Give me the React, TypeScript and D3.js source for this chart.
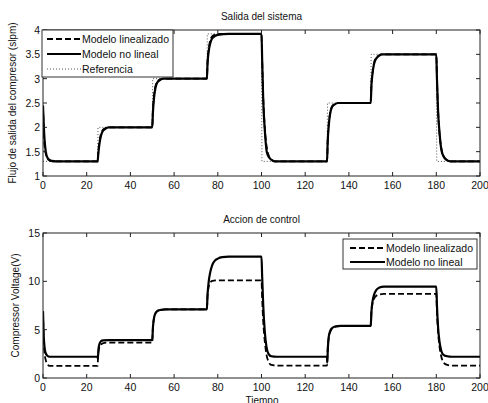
import * as d3 from 'd3'

// [tiempo, valor] pairs
const topLinealizado: [number, number][] = [
  [0, 2.45], [0.4, 1.85], [0.9, 1.55], [1.5, 1.42], [2.2, 1.35], [3, 1.32], [4.5, 1.3], [25, 1.3],
  [25.3, 1.5], [25.8, 1.7], [26.5, 1.86], [27.3, 1.94], [28.5, 1.98], [30, 2.0], [50, 2.0],
  [50.3, 2.35], [50.8, 2.65], [51.5, 2.85], [52.3, 2.94], [53.5, 2.98], [55, 3.0], [75, 3.0],
  [75.3, 3.35], [75.8, 3.6], [76.5, 3.78], [77.3, 3.86], [78.5, 3.9], [80, 3.92], [100, 3.92],
  [100.3, 3.4], [100.8, 2.6], [101.5, 2.0], [102.3, 1.62], [103.3, 1.42], [104.5, 1.34], [106, 1.3], [130, 1.3],
  [130.3, 1.72], [130.8, 2.08], [131.5, 2.32], [132.3, 2.43], [133.5, 2.48], [135, 2.5], [150, 2.5],
  [150.3, 2.87], [150.8, 3.12], [151.5, 3.32], [152.3, 3.42], [153.5, 3.47], [155, 3.5], [180, 3.5],
  [180.3, 3.0], [180.8, 2.35], [181.5, 1.85], [182.3, 1.57], [183.3, 1.41], [184.5, 1.34], [186.5, 1.3], [200, 1.3],
]
const topNoLineal: [number, number][] = [
  [0, 2.45], [0.5, 1.9], [1, 1.6], [1.5, 1.45], [2, 1.38], [3, 1.33], [4, 1.31], [6, 1.3], [25, 1.3],
  [25.3, 1.45], [25.8, 1.65], [26.5, 1.82], [27.3, 1.92], [28.5, 1.97], [30, 2.0], [50, 2.0],
  [50.3, 2.3], [50.8, 2.6], [51.5, 2.82], [52.3, 2.92], [53.5, 2.97], [55, 3.0], [75, 3.0],
  [75.3, 3.3], [75.8, 3.55], [76.5, 3.72], [77.3, 3.82], [78.5, 3.87], [80, 3.9], [85, 3.92], [100, 3.92],
  [100.3, 3.4], [100.8, 2.55], [101.5, 1.95], [102.4, 1.5], [103.5, 1.38], [104.7, 1.33], [106, 1.3], [130, 1.3],
  [130.3, 1.7], [130.8, 2.05], [131.5, 2.3], [132.3, 2.42], [133.5, 2.47], [135, 2.5], [150, 2.5],
  [150.3, 2.85], [150.8, 3.1], [151.5, 3.3], [152.3, 3.4], [153.5, 3.46], [155, 3.5], [180, 3.5],
  [180.3, 3.0], [180.8, 2.35], [181.5, 1.88], [182.4, 1.52], [183.5, 1.39], [184.7, 1.33], [186.5, 1.3], [200, 1.3],
]
const topReferencia: [number, number][] = [
  [0, 1.3], [25, 1.3], [25.2, 2.0], [50, 2.0], [50.2, 3.0], [75, 3.0], [75.2, 3.92], [100, 3.92],
  [100.2, 1.3], [130, 1.3], [130.2, 2.5], [150, 2.5], [150.2, 3.5], [180, 3.5], [180.2, 1.3], [200, 1.3],
]
const botLinealizado: [number, number][] = [
  [0, 6.9], [0.3, 4.0], [0.7, 2.6], [1.2, 1.9], [2, 1.45], [3, 1.25], [25, 1.25],
  [25.2, 2.3], [25.6, 3.0], [26.3, 3.4], [27.3, 3.58], [29, 3.65], [50, 3.65],
  [50.3, 5.2], [50.8, 6.2], [51.5, 6.7], [52.5, 6.95], [54, 7.05], [56, 7.1], [75, 7.1],
  [75.3, 8.5], [75.8, 9.4], [76.5, 9.85], [77.5, 10.05], [79, 10.1], [100, 10.1],
  [100.3, 8.2], [100.8, 5.8], [101.5, 3.8], [102.3, 2.4], [103.2, 1.7], [104.5, 1.35], [107, 1.28], [130, 1.28],
  [130.3, 3.0], [130.8, 4.2], [131.5, 4.8], [132.5, 5.15], [134, 5.3], [136, 5.38], [150, 5.38],
  [150.3, 6.8], [150.8, 7.7], [151.5, 8.2], [152.5, 8.5], [154, 8.65], [156, 8.7], [180, 8.7],
  [180.3, 6.8], [180.8, 4.8], [181.5, 3.2], [182.3, 2.2], [183.3, 1.6], [185, 1.35], [187, 1.28], [200, 1.28],
]
const botNoLineal: [number, number][] = [
  [0, 6.9], [0.3, 4.5], [0.7, 3.2], [1.2, 2.6], [2, 2.3], [3, 2.2], [25, 2.2],
  [25.1, 2.0], [25.4, 3.0], [25.8, 3.5], [26.5, 3.8], [27.5, 3.9], [30, 3.92], [50, 3.92],
  [50.3, 5.2], [50.8, 6.2], [51.5, 6.7], [52.5, 6.95], [54, 7.05], [56, 7.1], [75, 7.1],
  [75.3, 8.6], [75.8, 9.9], [76.5, 10.9], [77.5, 11.7], [78.5, 12.1], [80, 12.35], [82, 12.5], [85, 12.55], [100, 12.55],
  [100.3, 10.5], [100.8, 7.5], [101.5, 4.8], [102.3, 3.2], [103.2, 2.5], [104.5, 2.25], [107, 2.2], [130, 2.2],
  [130.1, 1.6], [130.4, 3.2], [130.8, 4.3], [131.5, 4.9], [132.5, 5.2], [134, 5.35], [136, 5.4], [150, 5.4],
  [150.3, 6.8], [150.8, 7.9], [151.5, 8.6], [152.5, 9.1], [154, 9.35], [156, 9.45], [180, 9.45],
  [180.3, 7.5], [180.8, 5.3], [181.5, 3.7], [182.3, 2.8], [183.3, 2.4], [185, 2.25], [187, 2.2], [200, 2.2],
]

const xTicks = [0, 20, 40, 60, 80, 100, 120, 140, 160, 180, 200]
const topYTicks = [1, 1.5, 2, 2.5, 3, 3.5, 4]
const botYTicks = [0, 5, 10, 15]

const FONT = 'Liberation Sans, Arial, sans-serif'
const L = 43, R = 480

type Pt = [number, number]

function Panel({ y, top, bottom, yTicks, title, ylabel, series, xlabel }: {
  y: d3.ScaleLinear<number, number>
  top: number
  bottom: number
  yTicks: number[]
  title: string
  ylabel: string
  series: { data: Pt[]; dash?: string; width: number; color: string; curve: boolean }[]
  xlabel?: string
}) {
  const x = d3.scaleLinear().domain([0, 200]).range([L, R])
  const clipId = 'clip' + top
  return (
    <g>
      <defs>
        <clipPath id={clipId}>
          <rect x={L} y={top} width={R - L} height={bottom - top} />
        </clipPath>
      </defs>
      <g clipPath={`url(#${clipId})`}>
        {series.map((s, i) => {
          const line = d3.line<Pt>().x(d => x(d[0])).y(d => y(d[1]))
            .curve(s.curve ? d3.curveMonotoneX : d3.curveLinear)
          return (
            <path key={i} d={line(s.data) || ''} fill="none" stroke={s.color}
              strokeWidth={s.width} strokeDasharray={s.dash} />
          )
        })}
      </g>
      <rect x={L} y={top} width={R - L} height={bottom - top} fill="none" stroke="#222" strokeWidth={1} />
      {xTicks.map(t => (
        <g key={'x' + t}>
          <line x1={x(t)} x2={x(t)} y1={bottom} y2={bottom - 4} stroke="#222" />
          <line x1={x(t)} x2={x(t)} y1={top} y2={top + 4} stroke="#222" />
          <text x={x(t)} y={bottom + 13} textAnchor="middle" fontSize={10.5} fontFamily={FONT} fill="#111">{t}</text>
        </g>
      ))}
      {yTicks.map(t => (
        <g key={'y' + t}>
          <line x1={L} x2={L + 4} y1={y(t)} y2={y(t)} stroke="#222" />
          <line x1={R} x2={R - 4} y1={y(t)} y2={y(t)} stroke="#222" />
          <text x={L - 3} y={y(t) + 4} textAnchor="end" fontSize={10.5} fontFamily={FONT} fill="#111">{t}</text>
        </g>
      ))}
      <text x={(L + R) / 2} y={top - 10} textAnchor="middle" fontSize={10} fontFamily={FONT} fill="#111">{title}</text>
      <text transform={`translate(${top < 100 ? 16 : 19},${(top + bottom) / 2}) rotate(-90)`} textAnchor="middle"
        fontSize={10} fontFamily={FONT} fill="#111">{ylabel}</text>
      {xlabel && (
        <text x={262} y={404} textAnchor="middle" fontSize={10} fontFamily={FONT} fill="#111">{xlabel}</text>
      )}
    </g>
  )
}

export default function App() {
  const yTop = d3.scaleLinear().domain([1, 4]).range([176, 30])
  const yBot = d3.scaleLinear().domain([0, 15]).range([378, 233])
  const dashed = '6,3'
  return (
    <svg width={488} height={403} style={{ position: 'fixed', left: 0, top: 0, background: '#fff' }}>
      <rect width={488} height={403} fill="#fff" />
      <Panel y={yTop} top={30} bottom={176} yTicks={topYTicks}
        title="Salida del sistema" ylabel="Flujo de salida del compresor (slpm)"
        series={[
          { data: topReferencia, dash: '1,2', width: 1, color: '#555', curve: false },
          { data: topNoLineal, width: 2.2, color: '#000', curve: true },
          { data: topLinealizado, dash: dashed, width: 1.8, color: '#000', curve: true },
        ]} />
      {/* legend top */}
      <g fontFamily={FONT} fontSize={10.5} fill="#111">
        <rect x={42} y={30} width={131} height={47} fill="#fff" stroke="#333" />
        <line x1={47} x2={81} y1={39} y2={39} stroke="#000" strokeWidth={1.8} strokeDasharray={dashed} />
        <text x={82} y={43}>Modelo linealizado</text>
        <line x1={47} x2={81} y1={54} y2={54} stroke="#000" strokeWidth={1.8} />
        <text x={82} y={58}>Modelo no lineal</text>
        <line x1={47} x2={81} y1={69} y2={69} stroke="#555" strokeWidth={1} strokeDasharray="1,2" />
        <text x={82} y={73}>Referencia</text>
      </g>
      <Panel y={yBot} top={233} bottom={378} yTicks={botYTicks}
        title="Accion de control" ylabel="Compressor Voltage(V)" xlabel="Tiempo"
        series={[
          { data: botNoLineal, width: 2.2, color: '#000', curve: true },
          { data: botLinealizado, dash: dashed, width: 1.8, color: '#000', curve: true },
        ]} />
      <g fontFamily={FONT} fontSize={10.5} fill="#111">
        <rect x={343} y={239} width={134} height={30} fill="#fff" stroke="#333" />
        <line x1={350} x2={385} y1={248} y2={248} stroke="#000" strokeWidth={1.8} strokeDasharray={dashed} />
        <text x={386} y={252}>Modelo linealizado</text>
        <line x1={350} x2={385} y1={262} y2={262} stroke="#000" strokeWidth={1.8} />
        <text x={386} y={266}>Modelo no lineal</text>
      </g>
    </svg>
  )
}
